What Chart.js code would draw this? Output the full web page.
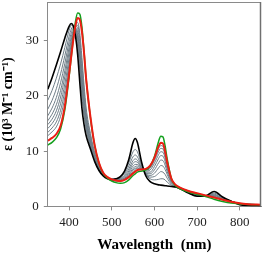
<!DOCTYPE html>
<html>
<head>
<meta charset="utf-8">
<script src="https://cdn.jsdelivr.net/npm/chart.js@4/dist/chart.umd.min.js"></script>
<style>
  body { margin: 0; background: #fff; }
</style>
</head>
<body>
<canvas id="myChart" width="263" height="256"></canvas>
<script>
// wavelengths (nm) shared by every spectrum
var wavelengths = [350, 360, 370, 380, 390, 400, 405, 410, 415, 420, 425, 430, 435, 440, 450, 460, 470, 480, 490, 500, 510, 520, 530, 540, 550, 555, 560, 570, 580, 590, 600, 610, 615, 620, 625, 630, 640, 650, 660, 680, 700, 720, 740, 760, 780, 800, 820, 850];

// epsilon (10^3 M-1 cm-1)
var specStart = [21.2, 23.3, 25.6, 28.0, 30.5, 32.6, 33.1, 32.6, 30.8, 27.5, 22.5, 17.8, 14.8, 12.8, 10.4, 8.1, 6.5, 5.5, 5.0, 4.85, 5.0, 5.4, 6.4, 8.5, 11.6, 12.3, 11.6, 8.0, 5.5, 4.5, 4.1, 3.9, 3.85, 3.8, 3.75, 3.7, 3.6, 3.5, 3.2, 2.4, 1.85, 1.9, 2.7, 1.7, 0.95, 0.3, 0.15, 0.1];
var specEnd = [11.1, 11.6, 12.4, 14.0, 17.5, 23.5, 27.0, 30.5, 33.5, 35.0, 34.8, 32.5, 28.0, 23.0, 16.0, 11.0, 7.8, 6.0, 5.1, 4.6, 4.3, 4.2, 4.3, 4.8, 5.6, 5.9, 6.2, 6.4, 6.6, 7.3, 9.0, 11.8, 12.7, 12.6, 11.0, 8.6, 5.0, 3.7, 3.2, 2.6, 2.2, 1.8, 1.3, 0.9, 0.6, 0.45, 0.35, 0.3];
var specRed = [11.9, 12.4, 13.1, 14.6, 18.2, 24.0, 27.2, 30.3, 32.8, 34.1, 33.8, 31.6, 27.8, 23.0, 16.2, 11.0, 7.9, 6.1, 5.3, 4.9, 4.7, 4.6, 4.8, 5.3, 6.0, 6.3, 6.6, 6.7, 6.8, 7.4, 8.8, 10.9, 11.5, 11.4, 10.0, 8.0, 5.0, 3.9, 3.4, 2.8, 2.4, 2.0, 1.6, 1.2, 0.85, 0.55, 0.4, 0.3];

// intermediate spectra (grey)
var specG1 = [19.2, 21.0, 23.2, 25.8, 28.8, 31.9, 32.8, 32.7, 31.6, 29.0, 24.8, 20.0, 16.5, 14.0, 10.8, 8.3, 6.6, 5.6, 5.1, 4.9, 5.0, 5.3, 6.2, 7.9, 9.9, 10.3, 9.9, 7.6, 5.8, 5.0, 4.8, 4.9, 5.0, 5.0, 4.8, 4.4, 3.8, 3.5, 3.2, 2.4, 1.9, 1.9, 2.4, 1.6, 0.95, 0.45, 0.3, 0.2];
var specG2 = [17.6, 19.2, 21.3, 24.0, 27.3, 30.8, 32.1, 32.6, 31.9, 29.8, 25.8, 21.0, 17.2, 14.5, 11.0, 8.4, 6.7, 5.7, 5.1, 4.9, 5.0, 5.2, 5.9, 7.3, 9.0, 9.3, 9.0, 7.3, 5.9, 5.3, 5.4, 6.0, 6.3, 6.2, 5.8, 5.1, 4.0, 3.5, 3.2, 2.5, 2.0, 1.9, 2.2, 1.5, 0.95, 0.5, 0.35, 0.25];
var specG3 = [16.4, 17.8, 19.7, 22.4, 25.9, 29.8, 31.4, 32.3, 32.1, 30.5, 26.8, 22.0, 17.9, 15.0, 11.3, 8.5, 6.8, 5.7, 5.1, 4.9, 4.9, 5.1, 5.6, 6.8, 8.3, 8.6, 8.4, 7.0, 5.9, 5.6, 6.0, 7.0, 7.4, 7.3, 6.7, 5.8, 4.2, 3.6, 3.2, 2.6, 2.1, 1.9, 2.05, 1.45, 0.95, 0.5, 0.35, 0.25];
var specG4 = [15.5, 16.7, 18.4, 21.0, 24.6, 28.8, 30.7, 31.9, 32.2, 31.0, 27.6, 22.8, 18.5, 15.4, 11.6, 8.7, 6.9, 5.8, 5.1, 4.9, 4.8, 5.0, 5.4, 6.4, 7.8, 8.1, 8.0, 6.9, 6.0, 5.9, 6.6, 7.9, 8.4, 8.3, 7.5, 6.3, 4.4, 3.7, 3.3, 2.6, 2.2, 1.9, 1.95, 1.4, 0.9, 0.5, 0.35, 0.25];
var specG5 = [14.8, 15.8, 17.3, 19.8, 23.5, 27.9, 30.1, 31.7, 32.3, 31.5, 28.4, 23.6, 19.2, 15.9, 11.9, 8.9, 7.0, 5.8, 5.1, 4.8, 4.7, 4.9, 5.2, 6.1, 7.3, 7.6, 7.6, 6.8, 6.2, 6.2, 7.2, 8.7, 9.2, 9.1, 8.2, 6.8, 4.6, 3.8, 3.3, 2.7, 2.2, 1.9, 1.85, 1.35, 0.9, 0.55, 0.35, 0.25];
var specG6 = [14.1, 15.0, 16.3, 18.6, 22.2, 26.9, 29.4, 31.4, 32.6, 32.2, 29.4, 24.6, 20.0, 16.4, 12.3, 9.1, 7.1, 5.9, 5.2, 4.8, 4.7, 4.8, 5.1, 5.8, 6.9, 7.2, 7.3, 6.7, 6.4, 6.6, 7.8, 9.4, 9.9, 9.8, 8.8, 7.2, 4.8, 3.8, 3.3, 2.7, 2.3, 1.9, 1.75, 1.3, 0.9, 0.55, 0.4, 0.3];
var specG7 = [13.4, 14.2, 15.3, 17.4, 21.0, 25.9, 28.7, 31.0, 32.7, 32.8, 30.4, 25.8, 21.0, 17.0, 12.7, 9.4, 7.2, 5.9, 5.2, 4.8, 4.6, 4.7, 5.0, 5.6, 6.6, 6.9, 7.0, 6.7, 6.6, 6.9, 8.3, 10.0, 10.5, 10.4, 9.3, 7.6, 4.9, 3.9, 3.4, 2.8, 2.3, 1.95, 1.7, 1.25, 0.9, 0.55, 0.4, 0.3];
var specG8 = [12.8, 13.5, 14.4, 16.3, 19.8, 25.0, 28.0, 30.7, 32.8, 33.3, 31.4, 27.0, 22.0, 17.8, 13.2, 9.7, 7.4, 6.0, 5.2, 4.8, 4.6, 4.6, 4.9, 5.4, 6.3, 6.7, 6.9, 6.7, 6.7, 7.1, 8.6, 10.5, 11.0, 10.9, 9.7, 7.8, 5.0, 3.9, 3.4, 2.8, 2.35, 1.95, 1.65, 1.2, 0.85, 0.55, 0.4, 0.3];

var xTicks = [400, 500, 600, 700, 800];
var yTicks = [0, 10, 20, 30];

function toPoints(values) {
    return wavelengths.map(function(w, i) { return { x: w, y: values[i] }; });
}

function line(values, color, width) {
    return {
        data: toPoints(values),
        borderColor: color,
        borderWidth: width,
        pointRadius: 0,
        fill: false,
        cubicInterpolationMode: 'monotone'
    };
}

var grey = 'rgb(110, 125, 135)';
var greys = [specG8, specG7, specG6, specG5, specG4, specG3, specG2, specG1];

// first dataset is drawn on top
var datasets = [
    line(specRed, 'rgb(235, 30, 20)', 2),
    line(specEnd, 'rgb(20, 160, 30)', 1.5),
    line(specStart, '#000', 1.6)
];
greys.forEach(function(g) { datasets.push(line(g, grey, 1)); });

// gray frame on top and right of the plot
var frame = {
    id: 'frame',
    afterDraw: function(c) {
        var a = c.chartArea, ctx = c.ctx;
        ctx.save();
        ctx.strokeStyle = '#8a8a8a';
        ctx.lineWidth = 1;
        ctx.beginPath();
        ctx.moveTo(a.left, a.top + 0.5);
        ctx.lineTo(a.right - 0.5, a.top + 0.5);
        ctx.stroke();
        ctx.strokeStyle = '#707070';
        ctx.lineWidth = 1.5;
        ctx.beginPath();
        ctx.moveTo(a.right - 0.5, a.top);
        ctx.lineTo(a.right - 0.5, a.bottom);
        ctx.stroke();
        ctx.restore();
    }
};

var ctx = document.getElementById('myChart').getContext('2d');
var chart = new Chart(ctx, {
    type: 'line',
    data: { datasets: datasets },
    options: {
        responsive: false,
        animation: false,
        devicePixelRatio: 1,
        layout: { padding: { top: 2, right: 2, left: 0, bottom: 0 } },
        scales: {
            x: {
                type: 'linear',
                min: 350,
                max: 850,
                afterBuildTicks: function(s) { s.ticks = xTicks.map(function(v) { return { value: v }; }); },
                grid: { drawOnChartArea: false, color: '#8a8a8a', tickLength: 4 },
                border: { color: '#8a8a8a' },
                ticks: {
                    color: '#222',
                    padding: 4,
                    maxRotation: 0,
                    font: { family: 'Liberation Serif', size: 13 }
                },
                title: {
                    display: true,
                    text: 'Wavelength  (nm)',
                    color: '#000',
                    padding: { top: 2, bottom: 2 },
                    font: { family: 'Liberation Serif', size: 15, weight: 'bold' }
                }
            },
            y: {
                min: 0,
                max: 37,
                afterBuildTicks: function(s) { s.ticks = yTicks.map(function(v) { return { value: v }; }); },
                afterFit: function(s) { s.paddingTop = 0; },
                grid: { drawOnChartArea: false, color: '#8a8a8a', tickLength: 4 },
                border: { color: '#8a8a8a' },
                ticks: {
                    color: '#222',
                    padding: 5,
                    font: { family: 'Liberation Serif', size: 13 }
                },
                title: {
                    display: true,
                    text: 'ε (10³ M⁻¹ cm⁻¹)',
                    color: '#000',
                    padding: { top: 0, bottom: 4 },
                    font: { family: 'Liberation Serif', size: 14, weight: 'bold' }
                }
            }
        },
        plugins: {
            legend: { display: false },
            tooltip: { enabled: false }
        }
    },
    plugins: [frame]
});
</script>
</body>
</html>
